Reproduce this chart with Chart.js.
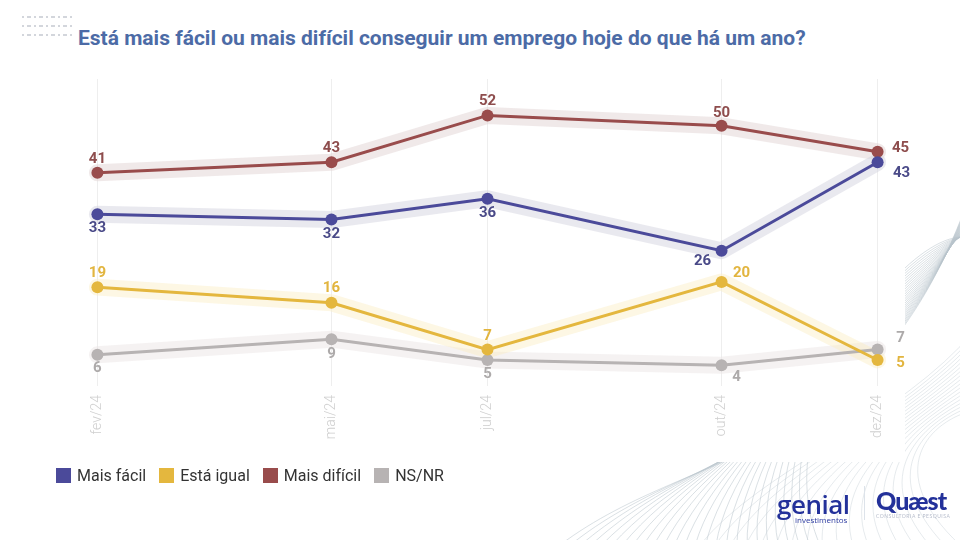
<!DOCTYPE html>
<html lang="pt-BR">
<head>
<meta charset="utf-8">
<title>Emprego</title>
<script src="https://cdn.jsdelivr.net/npm/chart.js@4.4.1/dist/chart.umd.min.js"></script>
<style>
  html, body { margin: 0; padding: 0; background: #fff; }
  body { width: 960px; height: 540px; position: relative; overflow: hidden; font-family: Roboto, "Noto Sans", sans-serif; }
  #deco { position: absolute; left: 0; top: 0; }
  #panel { position: absolute; left: 0; top: 0; width: 905px; height: 462px; background: #fff; }
  #marks { position: absolute; left: 22px; top: 16px; width: 52px; }
  #marks div { height: 2px; margin-bottom: 7px; background: repeating-linear-gradient(90deg, #d3d6dc 0 2px, transparent 2px 5px, #d3d6dc 5px 9px, transparent 9px 12px); }
  #title { position: absolute; left: 78px; top: 26px; font-size: 21px; font-weight: 700; color: #4c6ba6; white-space: nowrap; }
  #chartBox { position: absolute; left: 0; top: 0; width: 960px; height: 540px; }
  #legend { position: absolute; left: 56px; top: 466px; display: flex; align-items: center; font-size: 16px; color: #333; }
  #legend .item { display: flex; align-items: center; margin-right: 13px; }
  #legend .sw { width: 15px; height: 15px; margin-right: 6px; }
  .logo { position: absolute; color: #23319a; }
  #genial { left: 777px; top: 486px; font-size: 26px; font-weight: 600; letter-spacing: -0.5px; font-family: "Open Sans", sans-serif; }
  #genial small { position: absolute; left: 18px; top: 28px; font-size: 8px; font-weight: 400; letter-spacing: 0; color: #2c3aa0; }
  #sep { position: absolute; left: 864px; top: 486px; width: 1px; height: 34px; background: #dde3ea; }
  #quaest { left: 876px; top: 485px; font-size: 25px; font-weight: 900; letter-spacing: -1px; font-family: Lato, sans-serif; }
  #quaest small { position: absolute; left: 0; top: 28px; font-size: 5px; font-weight: 400; letter-spacing: 0.5px; color: #b6bccb; white-space: nowrap; }
</style>
</head>
<body>
<svg id="deco" width="960" height="540"></svg>
<div id="panel"></div>
<div id="marks"><div></div><div></div><div></div></div>
<div id="title">Está mais fácil ou mais difícil conseguir um emprego hoje do que há um ano?</div>
<div id="chartBox"><canvas id="c" width="960" height="540"></canvas></div>
<div id="legend"></div>
<div class="logo" id="genial">genial<small>investimentos</small></div>
<div id="sep"></div>
<div class="logo" id="quaest">Quæst<small>CONSULTORIA E PESQUISA</small></div>
<script>
// survey waves (month number in 2024) and their axis labels
const months = [2, 5, 7, 10, 12];
const monthLabels = ['fev/24', 'mai/24', 'jul/24', 'out/24', 'dez/24'];

const seriesNames = ['Mais fácil', 'Está igual', 'Mais difícil', 'NS/NR'];
const maisFacil = [33, 32, 36, 26, 43];
const estaIgual = [19, 16, 7, 20, 5];
const maisDificil = [41, 43, 52, 50, 45];
const nsnr = [6, 9, 5, 4, 7];

const seriesValues = [maisFacil, estaIgual, maisDificil, nsnr];

// looks: line colour, halo colour, label colour, label offsets (px from point)
const looks = [
  { line: '#4b4a9a', halo: 'rgba(212,212,224,0.5)', text: '#4a4a88',
    offs: [[0, 14], [0, 15], [0, 15], [-19, 11], [24, 11]] },
  { line: '#e4b73e', halo: 'rgba(250,238,196,0.45)', text: '#e2b53f',
    offs: [[0, -14], [0, -14], [0, -13], [20, -9], [23, 3]] },
  { line: '#994c4c', halo: 'rgba(226,212,212,0.5)', text: '#8e4d4d',
    offs: [[0, -13], [0, -14], [0, -14], [0, -13], [23, -4]] },
  { line: '#b7b3b3', halo: 'rgba(236,231,231,0.55)', text: '#adaaaa',
    offs: [[0, 13], [0, 15], [0, 14], [15, 12], [23, -11]] }
];

const pts = vals => vals.map((v, i) => ({ x: months[i], y: v }));

const datasets = [];
seriesValues.forEach((vals, i) => {
  datasets.push({
    label: seriesNames[i], data: pts(vals), order: 1,
    borderColor: looks[i].line, backgroundColor: looks[i].line,
    borderWidth: 3, pointRadius: 6, pointHoverRadius: 6,
    pointBackgroundColor: looks[i].line, pointBorderWidth: 0,
    tension: 0, _labels: true, _look: looks[i]
  });
});
seriesValues.forEach((vals, i) => {
  datasets.push({
    label: seriesNames[i] + ' halo', data: pts(vals), order: 2,
    borderColor: looks[i].halo, borderWidth: 17, pointRadius: 0,
    borderCapStyle: 'round', borderJoinStyle: 'round', tension: 0
  });
});

const valueLabels = {
  id: 'valueLabels',
  afterDatasetsDraw(chart) {
    const ctx = chart.ctx;
    ctx.save();
    ctx.font = '700 15px Roboto, sans-serif';
    ctx.textAlign = 'center';
    ctx.textBaseline = 'middle';
    chart.data.datasets.forEach((ds, di) => {
      if (!ds._labels) return;
      const meta = chart.getDatasetMeta(di);
      ctx.fillStyle = ds._look.text;
      meta.data.forEach((el, j) => {
        const o = ds._look.offs[j];
        ctx.fillText(String(ds.data[j].y), el.x + o[0], el.y + o[1]);
      });
    });
    ctx.restore();
  }
};

new Chart(document.getElementById('c'), {
  type: 'line',
  data: { datasets },
  plugins: [valueLabels],
  options: {
    responsive: false,
    animation: false,
    events: [],
    layout: { padding: { left: 35, right: 20, top: 79, bottom: 94 } },
    plugins: { legend: { display: false }, tooltip: { enabled: false }, title: { display: false } },
    scales: {
      x: {
        type: 'linear', min: 1.2, max: 12.8,
        afterBuildTicks: s => { s.ticks = months.map(v => ({ value: v })); },
        afterFit: s => { s.height = 60; },
        grid: { color: '#eeeeee', lineWidth: 1, drawTicks: false },
        border: { display: false },
        ticks: {
          minRotation: 90, maxRotation: 90, padding: 9,
          color: '#cfcfcf', font: { family: 'Roboto', size: 14, weight: 300 },
          callback: v => monthLabels[months.indexOf(v)] ?? ''
        }
      },
      y: { display: false, min: 0, max: 59 }
    }
  }
});

// HTML legend
const legend = document.getElementById('legend');
seriesNames.forEach((n, i) => {
  const it = document.createElement('div');
  it.className = 'item';
  it.innerHTML = '<span class="sw" style="background:' + looks[i].line + '"></span>' + n;
  legend.appendChild(it);
});

// decorative wave band, bottom right
const svg = document.getElementById('deco');
let paths = '';
for (let k = 0; k < 26; k++) {
  const t = k / 25;
  const x0 = 560 + t * 260, y0 = 545;
  const c1x = 700 + t * 60, c1y = 440 - t * 30;
  const c2x = 880 + t * 40, c2y = 470 - t * 260;
  const x1 = 975, y1 = 180 + t * 60;
  paths += '<path d="M' + x0 + ' ' + y0 + ' C' + c1x + ' ' + c1y + ' ' + c2x + ' ' + c2y + ' ' + x1 + ' ' + y1 +
    '" fill="none" stroke="#b9c4cc" stroke-width="0.7" opacity="0.75"/>';
}
for (let k = 0; k < 18; k++) {
  const t = k / 17;
  const x0 = 700 + t * 260;
  paths += '<path d="M' + x0 + ' 545 C' + (760 + t * 120) + ' 470 ' + (900 + t * 30) + ' 420 975 ' + (330 + t * 80) +
    '" fill="none" stroke="#c3ccd3" stroke-width="0.6" opacity="0.7"/>';
}
svg.innerHTML = paths;
</script>
</body>
</html>
